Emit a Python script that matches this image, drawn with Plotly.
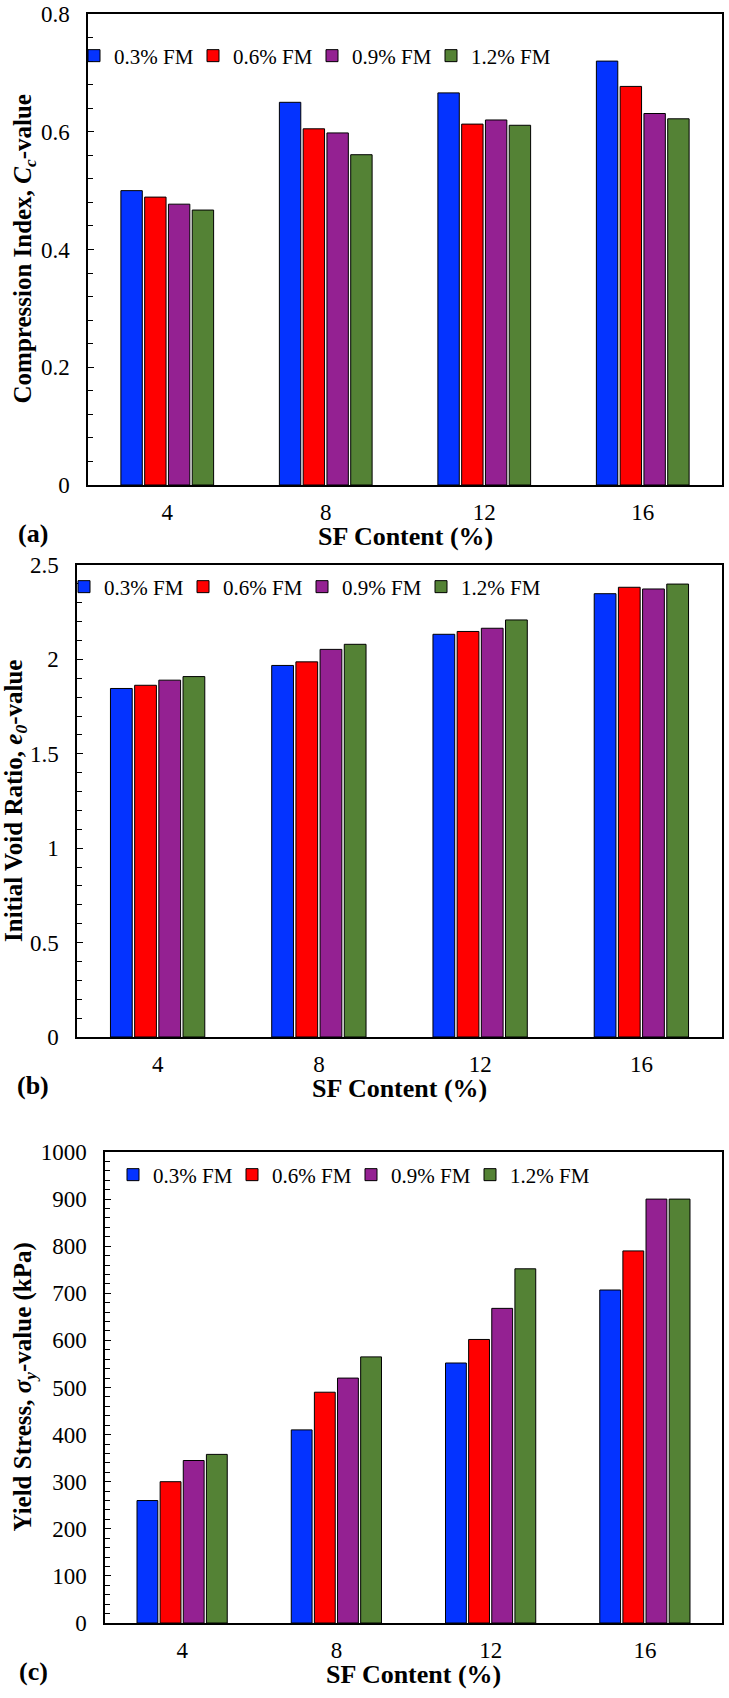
import plotly.graph_objects as go

W, H = 729, 1698

sf_content = ["4", "8", "12", "16"]
series_names = ["0.3% FM", "0.6% FM", "0.9% FM", "1.2% FM"]
colors = ["#0433FF", "#FF0000", "#942192", "#548235"]

# (a) Compression index Cc
cc_03 = [0.500, 0.650, 0.666, 0.720]
cc_06 = [0.489, 0.605, 0.613, 0.677]
cc_09 = [0.477, 0.598, 0.620, 0.631]
cc_12 = [0.467, 0.561, 0.611, 0.622]

# (b) Initial void ratio e0
e0_03 = [1.846, 1.968, 2.133, 2.348]
e0_06 = [1.863, 1.987, 2.148, 2.382]
e0_09 = [1.890, 2.053, 2.165, 2.373]
e0_12 = [1.909, 2.080, 2.209, 2.399]

# (c) Yield stress sigma_y (kPa)
sy_03 = [260, 410, 552, 707]
sy_06 = [300, 490, 602, 790]
sy_09 = [345, 520, 668, 900]
sy_12 = [358, 565, 752, 900]

FONT = "Times New Roman, Liberation Serif, serif"

panels = [
    dict(series=[cc_03, cc_06, cc_09, cc_12], left=88, top=14, bottom=485,
         yrange=[0, 0.8], dtick=0.2, minor=0.04,
         ytitle="Compression Index, <i>C<sub>c</sub></i>-value", ytitle_x=24,
         label="(a)", leg_x=94, leg_y=56),
    dict(series=[e0_03, e0_06, e0_09, e0_12], left=77, top=565, bottom=1037,
         yrange=[0, 2.5], dtick=0.5, minor=0.1,
         ytitle="Initial Void Ratio, <i>e<sub>0</sub></i>-value", ytitle_x=15,
         label="(b)", leg_x=84, leg_y=587),
    dict(series=[sy_03, sy_06, sy_09, sy_12], left=105, top=1152, bottom=1623,
         yrange=[0, 1000], dtick=100, minor=20,
         ytitle="Yield Stress, <i>σ<sub>y</sub></i>-value (kPa)", ytitle_x=24,
         label="(c)", leg_x=133, leg_y=1175),
]
RIGHT = 722

fig = go.Figure()
annotations = []
layout = dict(
    width=W, height=H, margin=dict(l=0, r=0, t=0, b=0),
    paper_bgcolor="white", plot_bgcolor="white",
    barmode="group", bargap=0.4, bargroupgap=0.1,
    font=dict(family=FONT, size=22, color="black"),
)

for i, p in enumerate(panels):
    k = "" if i == 0 else str(i + 1)
    legname = "legend" + k
    for j, vals in enumerate(p["series"]):
        fig.add_trace(go.Bar(
            x=sf_content, y=vals, name=series_names[j],
            marker=dict(color=colors[j], line=dict(color="black", width=1)),
            xaxis="x" + k, yaxis="y" + k, legend=legname, showlegend=True,
        ))
    layout["xaxis" + k] = dict(
        domain=[p["left"] / W, RIGHT / W], anchor="y" + k,
        type="category", range=[-0.5, 3.5],
        showline=True, mirror=True, linecolor="black", linewidth=1.5,
        ticks="", showgrid=False, zeroline=False,
        tickfont=dict(family=FONT, size=23, color="black"),
        ticklabelstandoff=6, automargin=False,
    )
    layout["yaxis" + k] = dict(
        domain=[1 - p["bottom"] / H, 1 - p["top"] / H], anchor="x" + k,
        range=p["yrange"], dtick=p["dtick"], tick0=0,
        showline=True, mirror=True, linecolor="black", linewidth=1.5,
        ticks="inside", ticklen=6, tickwidth=1, tickcolor="black",
        minor=dict(dtick=p["minor"], tick0=0, ticks="inside", ticklen=5,
                   tickwidth=1, tickcolor="black", showgrid=False),
        showgrid=False, zeroline=False,
        tickfont=dict(family=FONT, size=23, color="black"),
        ticklabelstandoff=12, automargin=False,
    )
    layout[legname] = dict(
        x=(p["leg_x"] - 20) / W, y=1 - p["leg_y"] / H,
        xanchor="left", yanchor="middle", orientation="h",
        bgcolor="rgba(0,0,0,0)", borderwidth=0,
        font=dict(family=FONT, size=21, color="black"),
        entrywidth=74, entrywidthmode="pixels",
        itemclick=False, itemdoubleclick=False,
    )
    cx = (p["left"] + RIGHT) / 2
    annotations.append(dict(
        text="SF Content (%)", x=cx / W, y=1 - (p["bottom"] + 51) / H,
        xref="paper", yref="paper", xanchor="center", yanchor="middle",
        showarrow=False, font=dict(family=FONT, size=26, color="black", weight="bold"),
    ))
    annotations.append(dict(
        text=p["ytitle"], x=p["ytitle_x"] / W, y=1 - (p["top"] + p["bottom"]) / 2 / H,
        xref="paper", yref="paper", xanchor="center", yanchor="middle",
        textangle=-90, showarrow=False,
        font=dict(family=FONT, size=25, color="black", weight="bold"),
    ))
    annotations.append(dict(
        text=p["label"], x=33 / W, y=1 - (p["bottom"] + 48) / H,
        xref="paper", yref="paper", xanchor="center", yanchor="middle",
        showarrow=False, font=dict(family=FONT, size=26, color="black", weight="bold"),
    ))

layout["annotations"] = annotations
fig.update_layout(**layout)
fig.write_html("out.html", config={"displayModeBar": False},
               post_script="document.body.style.margin='0';document.body.style.padding='0';")
